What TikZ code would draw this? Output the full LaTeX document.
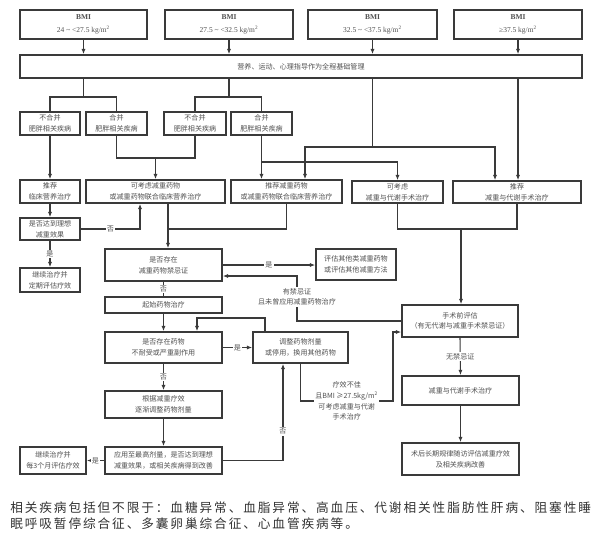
\documentclass[tikz,border=0pt]{standalone}
\usepackage{fontspec}
\setmainfont{Noto Sans CJK SC}
\newfontfamily\latinfont{Liberation Serif}
\newfontfamily\notefont[LetterSpace=15]{Noto Sans CJK SC}
\usetikzlibrary{calc,arrows.meta}
\definecolor{inkline}{HTML}{3A3A3A}
\definecolor{inktext}{HTML}{505050}

\begin{document}
\begin{tikzpicture}[x=0.75pt,y=-0.75pt,
    box/.style={draw=inkline,line width=1.1pt,inner sep=0pt,align=center,text=inktext,font=\fontsize{5.3pt}{8pt}\selectfont},
    sz/.style 2 args={minimum width=#1*0.75pt,minimum height=#2*0.75pt},
    link/.style={draw=inkline,line width=0.8pt},
    go/.style={link,-{Latex[length=4pt,width=3pt]}},
    tag/.style={fill=white,inner sep=1pt,text=inktext,align=center,font=\fontsize{5.3pt}{8pt}\selectfont}]
    \useasboundingbox[fill=white] (0,0) rectangle (600,547);
    \node[box,sz={127}{29},font=\latinfont\fontsize{5.6pt}{9.5pt}\selectfont] (bmiA) at (83.5,24.5) {\textbf{BMI}\\24 \textasciitilde{} <27.5 kg/m\textsuperscript{2}};
    \node[box,sz={128}{29},font=\latinfont\fontsize{5.6pt}{9.5pt}\selectfont] (bmiB) at (229,24.5) {\textbf{BMI}\\27.5 \textasciitilde{} <32.5 kg/m\textsuperscript{2}};
    \node[box,sz={129}{29},font=\latinfont\fontsize{5.6pt}{9.5pt}\selectfont] (bmiC) at (372.5,24.5) {\textbf{BMI}\\32.5 \textasciitilde{} <37.5 kg/m\textsuperscript{2}};
    \node[box,sz={128}{29},font=\latinfont\fontsize{5.6pt}{9.5pt}\selectfont] (bmiD) at (518,24.5) {\textbf{BMI}\\≥37.5 kg/m\textsuperscript{2}};
    \node[box,sz={562}{23}] (base) at (301,66.5) {营养、运动、心理指导作为全程基础管理};
    \node[box,sz={60}{23}] (noA) at (50,123.5) {不合并\\肥胖相关疾病};
    \node[box,sz={61}{23}] (withA) at (116.5,123.5) {合并\\肥胖相关疾病};
    \node[box,sz={62}{23}] (noB) at (195,123.5) {不合并\\肥胖相关疾病};
    \node[box,sz={61}{23}] (withB) at (261.5,123.5) {合并\\肥胖相关疾病};
    \node[box,sz={60}{23}] (nutri) at (50,191.5) {推荐\\临床营养治疗};
    \node[box,sz={139}{23}] (drugMay) at (155.5,191.5) {可考虑减重药物\\或减重药物联合临床营养治疗};
    \node[box,sz={111}{23}] (drugRec) at (286.5,191.5) {推荐减重药物\\或减重药物联合临床营养治疗};
    \node[box,sz={91}{22}] (surgMay) at (397.5,192) {可考虑\\减重与代谢手术治疗};
    \node[box,sz={128}{22}] (surgRec) at (517,192) {推荐\\减重与代谢手术治疗};
    \node[box,sz={60}{22}] (goal) at (50,229) {是否达到理想\\减重效果};
    \node[box,sz={60}{24}] (keepA) at (50,280) {继续治疗并\\定期评估疗效};
    \node[box,sz={117}{32}] (contra) at (163.5,265) {是否存在\\减重药物禁忌证};
    \node[box,sz={80}{31}] (other) at (356,264.5) {评估其他类减重药物\\或评估其他减重方法};
    \node[box,sz={117}{16}] (start) at (163.5,305) {起始药物治疗};
    \node[box,sz={117}{31}] (intol) at (163.5,347.5) {是否存在药物\\不耐受或严重副作用};
    \node[box,sz={95}{31}] (adjust) at (300.5,347.5) {调整药物剂量\\或停用，换用其他药物};
    \node[box,sz={117}{27}] (titrate) at (163.5,404.5) {根据减重疗效\\逐渐调整药物剂量};
    \node[box,sz={117}{27}] (maxdose) at (163.5,460.5) {应用至最高剂量，是否达到理想\\减重效果，或相关疾病得到改善};
    \node[box,sz={66}{27}] (keepB) at (53,460.5) {继续治疗并\\每3个月评估疗效};
    \node[box,sz={116}{32}] (preop) at (460,321) {手术前评估\\（有无代谢与减重手术禁忌证）};
    \node[box,sz={117}{29}] (surgery) at (460.5,390.5) {减重与代谢手术治疗};
    \node[box,sz={117}{32}] (follow) at (460.5,459) {术后长期规律随访评估减重疗效\\及相关疾病改善};
    \node[anchor=west,inner sep=0pt,text=black!80,font=\notefont\fontsize{9.5pt}{11pt}\selectfont] (noteA) at (10,508) {相关疾病包括但不限于：血糖异常、血脂异常、高血压、代谢相关性脂肪性肝病、阻塞性睡};
    \node[anchor=west,inner sep=0pt,text=black!80,font=\notefont\fontsize{9.5pt}{11pt}\selectfont] (noteB) at (10,523.5) {眠呼吸暂停综合征、多囊卵巢综合征、心血管疾病等。};
    \coordinate (splitA) at (83.5,97);
    \coordinate (splitB) at (229,97);
    \coordinate (splitC) at (372.5,147);
    \coordinate (joinA) at (155.5,158);
    \coordinate (joinB) at (261.5,162);
    \coordinate (joinC) at (168,229);
    \coordinate (joinD) at (461,229);
    \coordinate (veto) at (297,276);
    \coordinate (loopR) at (265,318);
    \coordinate (loopL) at (197,318);
    \coordinate (poorA) at (300.5,401);
    \coordinate (poorB) at (393,401);
    \coordinate (fail) at (283,460.5);
    \foreach \b in {bmiA,bmiB,bmiC,bmiD}
        \draw[go] (\b.south) -- (\b.south |- base.north);
    \draw[link] (base.south -| splitA) -- (splitA);
    \draw[link] (noA.north) |- (splitA) -| (withA.north);
    \draw[link] (base.south -| splitB) -- (splitB);
    \draw[link] (noB.north) |- (splitB) -| (withB.north);
    \draw[link] (base.south -| splitC) -- (splitC);
    \draw[go] (splitC) -| ($(drugRec.north)+(18.5,0)$);
    \draw[go] (splitC) -| ($(surgRec.north)+(-22,0)$);
    \draw[go] (base.south -| bmiD) -- (surgRec.north -| bmiD);
    \draw[go] (noA.south) -- (nutri.north);
    \draw[link] (withA.south) |- (joinA) -| (noB.south);
    \draw[go] (joinA) -- (drugMay.north);
    \draw[go] (withB.south) -- (drugRec.north -| withB);
    \draw[go] (joinB) -| (surgMay.north);
    \draw[go] (nutri.south) -- (goal.north);
    \draw[go] (goal.east) -| node[tag,pos=0.25] {否} ($(drugMay.south)+(-15.5,0)$);
    \draw[go] (goal.south) -- node[tag] {是} (keepA.north);
    \draw[link] (drugRec.south) |- (joinC);
    \draw[go] (drugMay.south -| joinC) -- (contra.north -| joinC);
    \draw[link] (surgMay.south) |- (joinD) -| (surgRec.south);
    \draw[go] (joinD) -- (preop.north -| joinD);
    \draw[go] (contra.east) -- node[tag] {是} (other.west |- contra.east);
    \draw[go] (preop.west) -| node[tag,pos=0.77] {有禁忌证\\且未曾应用减重药物治疗} (veto) -- (contra.east |- veto);
    \draw[link] (contra.south) -- node[tag] {否} (start.north);
    \draw[go] (start.south) -- (intol.north);
    \draw[go] (intol.east) -- node[tag] {是} (adjust.west);
    \draw[go] (adjust.north -| loopR) -- (loopR) -- (loopL) -- (intol.north -| loopL);
    \draw[go] (adjust.south) -- (poorA) -- node[tag] {疗效不佳\\且BMI ≥27.5kg/m\textsuperscript{2}\\可考虑减重与代谢\\手术治疗} (poorB) |- ($(preop.west)+(0,11)$);
    \draw[go] (intol.south) -- node[tag] {否} (titrate.north);
    \draw[go] (titrate.south) -- (maxdose.north);
    \draw[go] (maxdose.west) -- node[tag] {是} (keepB.east);
    \draw[go] (maxdose.east) -- (fail) -- node[tag,pos=0.3] {否} (adjust.south -| fail);
    \draw[go] (preop.south) -- node[tag] {无禁忌证} (surgery.north);
    \draw[go] (surgery.south) -- (follow.north);
\end{tikzpicture}
\end{document}
